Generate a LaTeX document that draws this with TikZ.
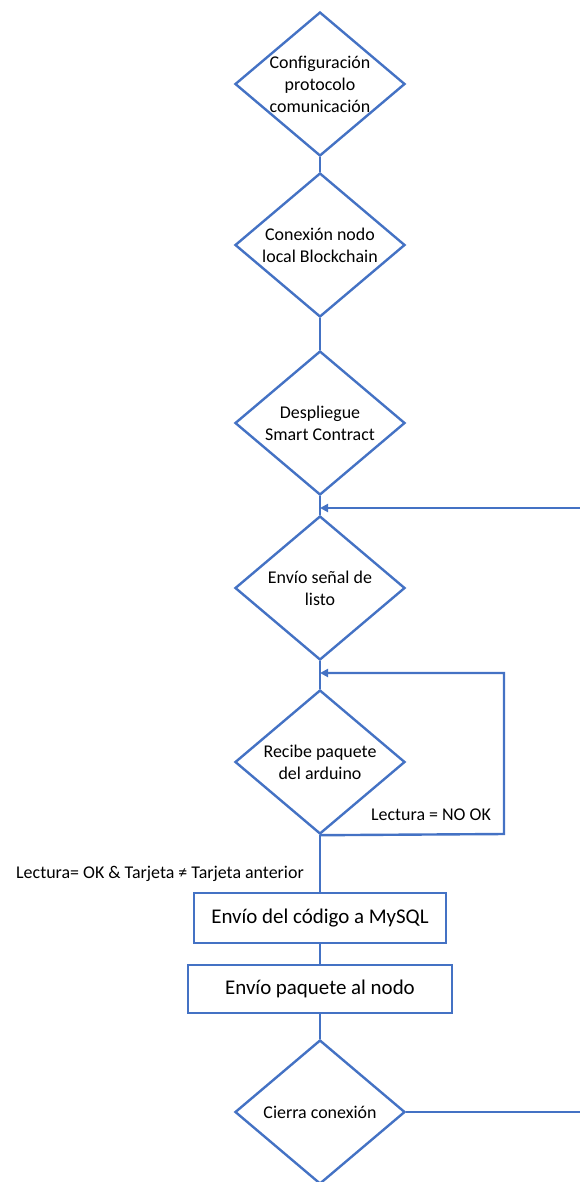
\documentclass[tikz,border=0pt]{standalone}
\usepackage{fontspec}
\setmainfont{Carlito}
\usepackage{tikz}
\usetikzlibrary{arrows.meta, positioning, shapes.geometric}

\definecolor{flowblue}{HTML}{4472C4}

\begin{document}
\begin{tikzpicture}[x=1bp, y=-1bp,
    decision/.style={draw=flowblue, line width=2.4bp, diamond, aspect=1.18, inner sep=-3bp,
        minimum width=170bp, minimum height=144bp, align=center, font=\fontsize{18}{22}\selectfont},
    process/.style={draw=flowblue, line width=2.4bp, rectangle, inner sep=0pt,
        font=\fontsize{21}{25}\selectfont},
    flow/.style={draw=flowblue, line width=2.4bp},
    back/.style={flow, -{Triangle[length=8bp, width=8bp]}},
    lbl/.style={font=\fontsize{18}{22}\selectfont}]
        \useasboundingbox (0,0) rectangle (580,1182);

        % Decisions
        \node[decision] (d1) at (320,84) {Configuración\\protocolo\\comunicación};
        \node[decision] (d2) at (320,245) {Conexión nodo\\local Blockchain};
        \node[decision] (d3) at (320,423) {Despliegue\\Smart Contract};
        \node[decision] (d4) at (320,588) {Envío señal de\\listo};
        \node[decision] (d5) at (320,762) {Recibe paquete\\del arduino};

        % Processes
        \node[process, minimum width=252bp, minimum height=50bp] (p1) at (320,918) {Envío del código a MySQL};
        \node[process, minimum width=264bp, minimum height=48bp] (p2) at (320,989) {Envío paquete al nodo};

        \node[decision] (d6) at (320,1112) {Cierra conexión};

        % Junctions
        \coordinate (j1) at (320,508);
        \coordinate (j2) at (320,673);
        \coordinate (r1) at (580,508);
        \coordinate (r2) at (580,1112);

        % Connections
        \draw[flow] (d1) -- (d2);
        \draw[flow] (d2) -- (d3);
        \draw[flow] (d3) -- (d4);
        \draw[flow] (d4) -- (d5);
        \draw[flow] (d5) -- (p1);
        \draw[flow] (p1) -- (p2);
        \draw[flow] (p2) -- (d6);
        \draw[back] (r1) -- (j1);
        \draw[back] (d5.south) -- (504,834) -- (504,673) -- (j2);
        \draw[flow] (d6.east) -- (r2);

        % Labels
        \node[lbl] (nook) at (431,815) {Lectura = NO OK};
        \node[lbl] (ok) at (160,874) {Lectura= OK \& Tarjeta ≠ Tarjeta anterior};
      \end{tikzpicture}
\end{document}
